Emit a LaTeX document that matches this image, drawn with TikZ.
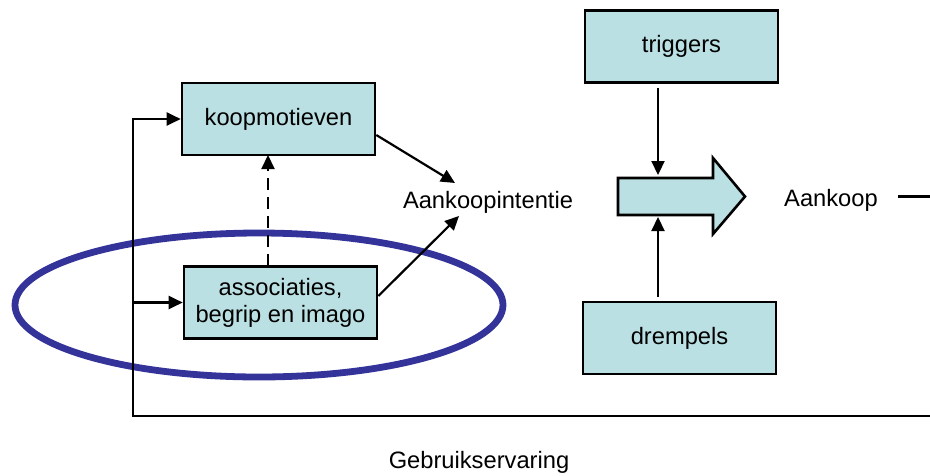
\documentclass[tikz,border=0pt]{standalone}
\usepackage{fontspec}
\setmainfont{Liberation Sans}
\usepackage{xcolor}
\usetikzlibrary{arrows.meta}

\definecolor{vakblauw}{RGB}{186,224,227}
\definecolor{ovaalblauw}{RGB}{51,51,153}

\begin{document}
\begin{tikzpicture}[x=1pt,y=-1pt]
\tikzset{vak/.style={draw=black,line width=2.6pt,fill=vakblauw,minimum width=193pt,minimum height=72pt,inner sep=0pt,align=center}}
\tikzset{pijl/.style={line width=2.2pt,-{Triangle[length=14pt,width=13pt]}}}
\tikzset{woord/.style={anchor=base,inner sep=0pt}}

\fontsize{23.7}{27}\selectfont
\useasboundingbox (0,0) rectangle (930,475);

\draw[ovaalblauw,line width=6.8pt] (259,305) ellipse [x radius=244,y radius=72];

\node[vak] (koop) at (278.5,119) {koopmotieven};
\node[vak] (assoc) at (280.5,302.5) {associaties,\\begrip en imago};
\node[vak] (triggers) at (681.5,46.5) {triggers};
\node[vak] (drempels) at (679.5,338) {drempels};
\node[woord] (intentie) at (488,208) {Aankoopintentie};
\node[woord] (aankoop) at (831,206) {Aankoop};
\node[woord] (ervaring) at (479,468) {Gebruikservaring};

% grote pijl
\draw[line width=2.6pt,fill=vakblauw,line join=miter] (618,178) -- (713,178) -- (713,158) -- (745,196.5) -- (713,234) -- (713,215) -- (618,215) -- cycle;
\coordinate (pijlboven) at (658,175);
\coordinate (pijlonder) at (658,217);

\coordinate (links) at (133,416);
\coordinate (rechtsonder) at (930,416);
\coordinate (lijnstart) at (898,196.5);
\coordinate (rechtsboven) at (930,196.5);

\draw[pijl] (koop.east |- 0,135) -- (455,183);
\draw[pijl] (assoc.east |- 0,296) -- (459,216);
\draw[pijl,dash pattern=on 12pt off 7pt] (268,266) -- (268,155);
\draw[pijl] (triggers.south -| pijlboven) ++(0,4) -- (pijlboven);
\draw[pijl] (drempels.north -| pijlonder) ++(0,-4) -- (pijlonder);

\draw[line width=2.2pt] (lijnstart) -- (rechtsboven);
\draw[pijl] (rechtsonder) -- (links) |- (koop.west);
\draw[pijl] (links |- assoc.west) -- (assoc.west);

\end{tikzpicture}
\end{document}
